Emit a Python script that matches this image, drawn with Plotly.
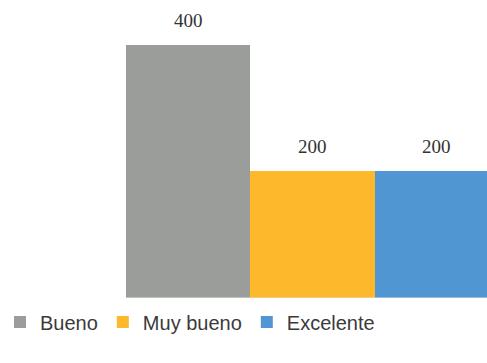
import plotly.graph_objects as go

# Ratings counts, one bar per rating level
series_names = ["Bueno", "Muy bueno", "Excelente"]
series_values = [400, 200, 200]
series_colors = ["#9A9D9A", "#FDB82B", "#4F96D2"]
category = [""]

W, H = 487, 363
BAR_LEFT_PX = 126      # left edge of the bar group
GROUP_PX = 373         # width of the full bar group (one category unit)

fig = go.Figure()
for name, val, col in zip(series_names, series_values, series_colors):
    fig.add_trace(go.Bar(
        x=category, y=[val], name=name,
        marker=dict(color=col, line=dict(width=0)),
    ))

# value labels above each bar (grouped bars share the single category slot)
n = len(series_values)
for i, val in enumerate(series_values):
    xc = -0.5 + (i + 0.5) / n
    fig.add_annotation(
        x=xc, y=val, xref="x", yref="y", text=str(val), showarrow=False,
        yanchor="bottom", yshift=12,
        font=dict(family="Liberation Serif", size=19, color="#333333"),
    )

x0 = -0.5 - BAR_LEFT_PX / GROUP_PX
x1 = x0 + W / GROUP_PX

# faint baseline under the bars
fig.add_shape(type="line", xref="x", yref="y", x0=-0.5, x1=x1, y0=0, y1=0,
              line=dict(color="#e3e3e3", width=1))

fig.update_layout(
    width=W, height=H,
    margin=dict(l=0, r=0, t=0, b=65),
    barmode="group", bargap=0, bargroupgap=0,
    plot_bgcolor="white", paper_bgcolor="white",
    showlegend=True,
    legend=dict(
        orientation="h", xref="container", yref="container",
        x=0.0, y=(H - 322) / H, xanchor="left", yanchor="middle",
        font=dict(family="Liberation Sans", size=20, color="#3a3a3a"),
        itemwidth=30, tracegroupgap=0,
    ),
    xaxis=dict(range=[x0, x1], showticklabels=False, showline=False,
               showgrid=False, zeroline=False, fixedrange=True),
    yaxis=dict(range=[0, 471], visible=False, showgrid=False,
               zeroline=False),
)

fig.write_html("out.html")
